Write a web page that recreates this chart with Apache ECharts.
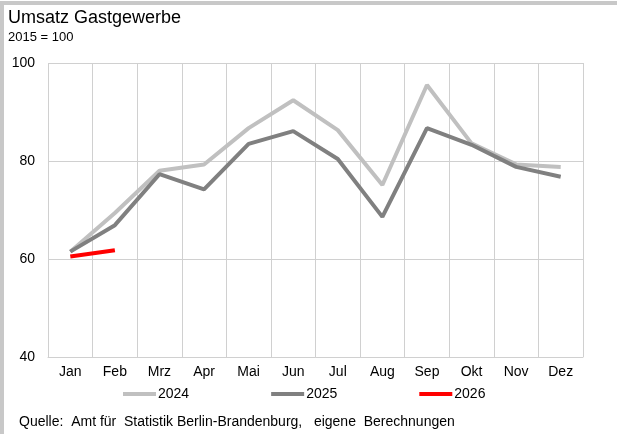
<!DOCTYPE html>
<html>
<head>
<meta charset="utf-8">
<script src="https://cdn.jsdelivr.net/npm/echarts@6/dist/echarts.min.js"></script>
<style>
  html, body { margin: 0; padding: 0; background: #fff; }
  #chart { width: 617px; height: 434px; }
</style>
</head>
<body>
<div id="chart"></div>
<script>
// Monate und Werte (2015 = 100)
const months = ['Jan', 'Feb', 'Mrz', 'Apr', 'Mai', 'Jun', 'Jul', 'Aug', 'Sep', 'Okt', 'Nov', 'Dez'];
const values2024 = [61.5, 69.4, 78.0, 79.3, 86.7, 92.4, 86.3, 75.1, 95.5, 83.6, 79.3, 78.8];
const values2025 = [61.5, 66.9, 77.3, 74.2, 83.5, 86.1, 80.4, 68.6, 86.7, 83.3, 78.8, 76.8];
const values2026 = [60.5, 61.8];
const yTicks = [40, 60, 80, 100];

const font = '"Liberation Sans", Arial, sans-serif';
const chart = echarts.init(document.getElementById('chart'));

const option = {
  animation: false,
  textStyle: { fontFamily: font },
  graphic: [
    // grauer Rahmen oben und links
    { type: 'rect', shape: { x: 0, y: 1, width: 617, height: 4 }, style: { fill: '#c8c8c8' } },
    { type: 'rect', shape: { x: 0, y: 1, width: 4, height: 433 }, style: { fill: '#c8c8c8' } },
    { type: 'text', left: 8, top: 9, style: { text: 'Umsatz Gastgewerbe', font: '18px ' + font, fill: '#000' } },
    { type: 'text', left: 8, top: 31, style: { text: '2015 = 100', font: '13px ' + font, fill: '#000' } },
    { type: 'text', left: 19, top: 415, style: { text: 'Quelle:  Amt für  Statistik Berlin-Brandenburg,   eigene  Berechnungen', font: '14px ' + font, fill: '#000' } },
    // rechte Rahmenlinie des Diagramms
    { type: 'line', shape: { x1: 583.5, y1: 63, x2: 583.5, y2: 357 }, style: { stroke: '#d0d0d0', lineWidth: 1 } }
  ],
  grid: { left: 48, right: 34, top: 63, bottom: 77 },
  legend: {
    top: 382,
    left: 118,
    itemGap: 82,
    itemWidth: 33,
    itemHeight: 4,
    icon: 'rect',
    textStyle: { fontSize: 14, color: '#000', padding: [0, 0, 0, -3] },
    data: ['2024', '2025', '2026']
  },
  xAxis: {
    type: 'category',
    data: months,
    boundaryGap: true,
    axisLine: { show: true, lineStyle: { color: '#d0d0d0', width: 1 } },
    axisTick: { show: false },
    axisLabel: { color: '#000', fontSize: 14, margin: 8 },
    splitLine: { show: true, lineStyle: { color: '#d0d0d0', width: 1 } }
  },
  yAxis: {
    type: 'value',
    min: yTicks[0],
    max: yTicks[yTicks.length - 1],
    interval: 20,
    axisLine: { show: false },
    axisTick: { show: false },
    axisLabel: { color: '#000', fontSize: 14, margin: 13 },
    splitLine: { show: true, lineStyle: { color: '#d0d0d0', width: 1 } }
  },
  series: [
    {
      name: '2024', type: 'line', data: values2024, symbol: 'none',
      lineStyle: { color: '#c0c0c0', width: 4 }, itemStyle: { color: '#c0c0c0' }
    },
    {
      name: '2025', type: 'line', data: values2025, symbol: 'none',
      lineStyle: { color: '#808080', width: 4 }, itemStyle: { color: '#808080' }
    },
    {
      name: '2026', type: 'line', data: values2026, symbol: 'none',
      lineStyle: { color: '#ff0000', width: 4 }, itemStyle: { color: '#ff0000' }
    }
  ]
};

chart.setOption(option);
</script>
</body>
</html>
